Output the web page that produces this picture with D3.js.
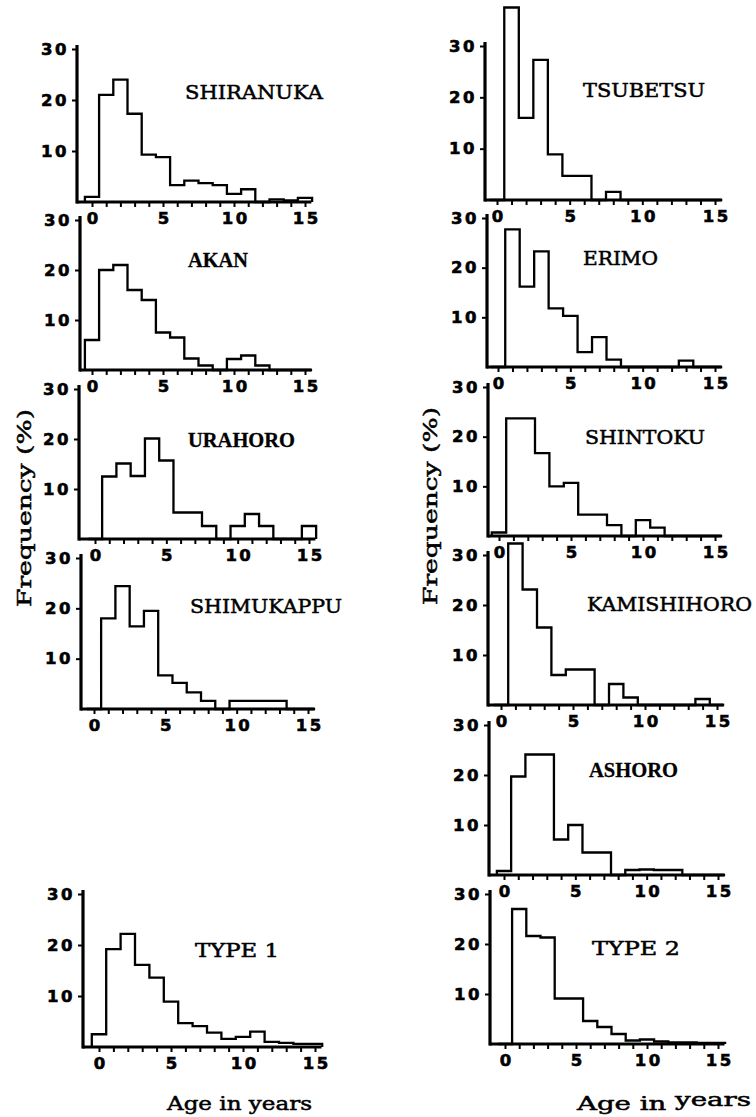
<!DOCTYPE html>
<html>
<head>
<meta charset="utf-8">
<script src="https://cdn.jsdelivr.net/npm/d3@7/dist/d3.min.js"></script>
<style>
  body { margin: 0; background: #fff; }
  svg { display: block; }
</style>
</head>
<body>
<svg id="chart" width="756" height="1117"></svg>
<script>
// Age classes (years) and percentage frequency per class for each locality
const ages = d3.range(0, 16);

const shiranuka   = [1, 21, 24, 17.3, 9.3, 8.8, 3.3, 4.2, 3.7, 3.3, 1.6, 2.5, 0, 0.5, 0.3, 0.8];
const akan        = [6, 20, 21, 16, 14, 7.5, 6.5, 2.3, 0.9, 0, 2.2, 2.9, 0.9, 0, 0, 0];
const urahoro     = [0, 12.5, 15.1, 12.6, 20.1, 15.7, 5.3, 5.3, 2.6, 0, 2.6, 5.0, 2.6, 0, 0, 2.6];
const shimukappu  = [0, 18, 24.4, 16.4, 19.5, 6.7, 5.2, 3.3, 1.6, 0, 1.6, 1.6, 1.6, 1.6, 0, 0];
const type1       = [2.5, 19.2, 22.2, 16.1, 13.6, 8.9, 4.7, 4.1, 2.8, 1.6, 2.0, 3.0, 1.0, 0.8, 0.6, 0.6];

const tsubetsu    = [0, 37.5, 16, 27.3, 8.9, 4.7, 4.7, 0, 1.6, 0, 0, 0, 0, 0, 0, 0];
const erimo       = [0, 27.7, 16.2, 23.3, 11.8, 10.3, 3, 6, 1.5, 0, 0, 0, 0, 1.3, 0, 0];
const shintoku    = [0.7, 23.7, 23.7, 16.7, 10, 10.7, 4.3, 4.3, 2.2, 0, 3.2, 1.7, 0, 0, 0, 0];
const kamishihoro = [0, 32.3, 23.1, 15.5, 6, 7.1, 7.1, 0, 4.2, 1.5, 0, 0, 0, 0, 1.2, 0];
const ashoro      = [0.8, 19.7, 24.1, 24.1, 7.1, 10, 4.5, 4.5, 0, 1.0, 1.1, 1.0, 1.0, 0, 0, 0];
const type2       = [0, 27, 21.6, 21.3, 9.1, 9.1, 4.6, 3.4, 2.0, 0.7, 0.9, 0.5, 0.3, 0.3, 0.2, 0.2];

const yTickValues = [10, 20, 30];
const xTickLabels = [0, 5, 10, 15];

const series = [
  { name: "SHIRANUKA",   values: shiranuka },
  { name: "AKAN",        values: akan },
  { name: "URAHORO",     values: urahoro },
  { name: "SHIMUKAPPU",  values: shimukappu },
  { name: "TYPE 1",      values: type1 },
  { name: "TSUBETSU",    values: tsubetsu },
  { name: "ERIMO",       values: erimo },
  { name: "SHINTOKU",    values: shintoku },
  { name: "KAMISHIHORO", values: kamishihoro },
  { name: "ASHORO",      values: ashoro },
  { name: "TYPE 2",      values: type2 }
];

// Panel placement: y-axis x, pixel of age 0 and 15, pixel of 30 % and 0 %,
// title anchor / width and title face.
const layout = {
  "SHIRANUKA":   { axisX: 77,  x0: 92,  x15: 305, yTop: 49,  yBase: 202,  tx: 185, ty: 99,  tw: 138, face: "mono" },
  "AKAN":        { axisX: 80,  x0: 92,  x15: 305, yTop: 220, yBase: 370,  tx: 188, ty: 267, tw: 60,  face: "serif" },
  "URAHORO":     { axisX: 79,  x0: 95,  x15: 309, yTop: 389, yBase: 539,  tx: 188, ty: 447, tw: 107, face: "serif" },
  "SHIMUKAPPU":  { axisX: 81,  x0: 94,  x15: 308, yTop: 558, yBase: 709,  tx: 190, ty: 613, tw: 152, face: "mono" },
  "TYPE 1":      { axisX: 83,  x0: 99,  x15: 315, yTop: 894, yBase: 1047, tx: 195, ty: 957, tw: 84,  face: "mono" },
  "TSUBETSU":    { axisX: 485, x0: 497, x15: 715, yTop: 46,  yBase: 200,  tx: 583, ty: 97,  tw: 122, face: "mono" },
  "ERIMO":       { axisX: 487, x0: 498, x15: 715, yTop: 218, yBase: 367,  tx: 583, ty: 265, tw: 75,  face: "mono" },
  "SHINTOKU":    { axisX: 488, x0: 499, x15: 715, yTop: 387, yBase: 536,  tx: 585, ty: 444, tw: 120, face: "mono" },
  "KAMISHIHORO": { axisX: 488, x0: 501, x15: 717, yTop: 555, yBase: 705,  tx: 587, ty: 611, tw: 165, face: "mono" },
  "ASHORO":      { axisX: 489, x0: 504, x15: 718, yTop: 725, yBase: 875,  tx: 589, ty: 777, tw: 89,  face: "serif" },
  "TYPE 2":      { axisX: 490, x0: 505, x15: 718, yTop: 894, yBase: 1044, tx: 592, ty: 955, tw: 88,  face: "mono" }
};

const TYPE_FONT = "'DejaVu Serif', 'Liberation Serif', serif";
const SERIF_FONT = "'Liberation Serif', 'Times New Roman', serif";
const NUM_FONT = "'DejaVu Sans', 'Liberation Sans', sans-serif";

const svg = d3.select("#chart");

// heavy, slightly spread digits for the axis numbers
function styleNumbers(sel) {
  sel.attr("fill", "#000")
    .attr("stroke", "#000")
    .attr("stroke-width", 0.6)
    .style("font-family", NUM_FONT)
    .style("font-weight", "bold")
    .style("font-size", "16.5px")
    .style("letter-spacing", "2.5px");
}

series.forEach(s => {
  const L = layout[s.name];
  const x = d3.scaleLinear().domain([0, 15]).range([L.x0, L.x15]);
  const y = d3.scaleLinear().domain([0, 30]).range([L.yBase, L.yTop]);
  const g = svg.append("g").attr("class", "panel");

  // stepped outline of the age-frequency histogram, one class per year
  const pts = [[ages[0] - 0.5, 0]];
  s.values.forEach((v, i) => {
    pts.push([ages[i] - 0.5, v]);
    pts.push([ages[i] + 0.5, v]);
  });
  pts.push([ages[ages.length - 1] + 0.5, 0]);
  g.append("path")
    .attr("d", d3.line().x(d => x(d[0])).y(d => y(d[1]))(pts))
    .attr("fill", "none")
    .attr("stroke", "#000")
    .attr("stroke-width", 2.3)
    .attr("stroke-linejoin", "miter");

  // x axis: a tick every year, numbers every five
  const xAxis = d3.axisBottom(x)
    .tickValues(ages)
    .tickSize(5)
    .tickPadding(5)
    .tickFormat(d => xTickLabels.includes(d) ? d : "");
  const gx = g.append("g").attr("transform", `translate(0,${L.yBase})`).call(xAxis);
  gx.select(".domain").remove();
  gx.selectAll(".tick line").attr("stroke", "#000").attr("stroke-width", 2);
  gx.selectAll(".tick text").call(styleNumbers).attr("dx", "1.2px");
  g.append("line")
    .attr("x1", L.axisX).attr("x2", x(15.45))
    .attr("y1", L.yBase).attr("y2", L.yBase)
    .attr("stroke", "#000").attr("stroke-width", 3.2);

  // y axis
  const yAxis = d3.axisLeft(y).tickValues(yTickValues).tickSize(5).tickPadding(3);
  const gy = g.append("g").attr("transform", `translate(${L.axisX},0)`).call(yAxis);
  gy.select(".domain").remove();
  gy.selectAll(".tick line").attr("stroke", "#000").attr("stroke-width", 2);
  gy.selectAll(".tick text").call(styleNumbers);
  g.append("line")
    .attr("x1", L.axisX).attr("x2", L.axisX)
    .attr("y1", L.yTop - 4).attr("y2", L.yBase + 1.6)
    .attr("stroke", "#000").attr("stroke-width", 3.2);

  // locality title
  const serif = L.face === "serif";
  g.append("text")
    .attr("x", L.tx).attr("y", L.ty)
    .attr("textLength", L.tw)
    .attr("lengthAdjust", "spacingAndGlyphs")
    .attr("fill", "#000")
    .attr("stroke", "#000")
    .attr("stroke-width", serif ? 0.3 : 0.5)
    .style("font-family", serif ? SERIF_FONT : TYPE_FONT)
    .style("font-weight", serif ? "bold" : "normal")
    .style("font-size", serif ? "21px" : "19px")
    .text(s.name);
});

// axis titles
function yTitle(xb, yStart, len) {
  svg.append("text")
    .attr("transform", `translate(${xb},${yStart}) rotate(-90)`)
    .attr("textLength", len)
    .attr("lengthAdjust", "spacingAndGlyphs")
    .attr("fill", "#000")
    .attr("stroke", "#000")
    .attr("stroke-width", 0.5)
    .style("font-family", TYPE_FONT)
    .style("font-size", "19px")
    .text("Frequency (%)");
}
yTitle(31, 607, 198);
yTitle(437, 605, 198);

svg.append("text")
  .attr("x", 167).attr("y", 1110)
  .attr("textLength", 145)
  .attr("lengthAdjust", "spacingAndGlyphs")
  .attr("fill", "#000")
  .attr("stroke", "#000")
  .attr("stroke-width", 0.5)
  .style("font-family", TYPE_FONT)
  .style("font-size", "19px")
  .text("Age in years");

const right = svg.append("text")
  .attr("x", 577).attr("y", 1110)
  .attr("fill", "#000")
  .attr("stroke", "#000")
  .attr("stroke-width", 0.5)
  .style("font-family", TYPE_FONT)
  .style("font-size", "19px");
right.append("tspan").attr("textLength", 98).attr("lengthAdjust", "spacingAndGlyphs").text("Age in ");
right.append("tspan").attr("dy", -4).attr("textLength", 76).attr("lengthAdjust", "spacingAndGlyphs").text("years");
</script>
</body>
</html>
